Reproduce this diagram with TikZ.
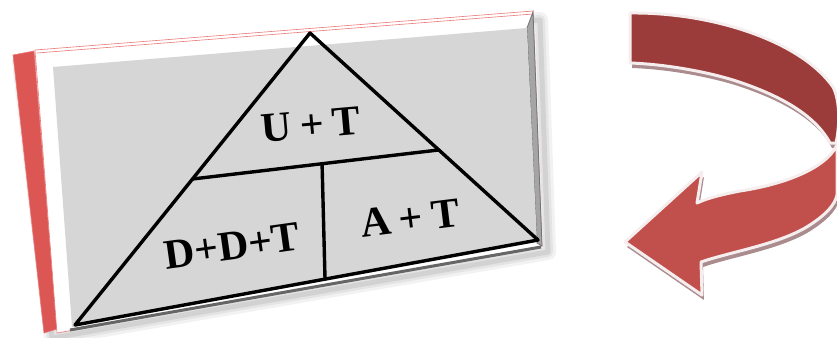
\documentclass[tikz,border=0pt]{standalone}
\usepackage{fontspec}
\setmainfont{Liberation Serif}
\usetikzlibrary{calc}
\definecolor{facegray}{RGB}{214,214,214}
\definecolor{bevelgray}{RGB}{165,165,165}
\definecolor{sidered}{RGB}{220,86,84}
\definecolor{thinred}{RGB}{232,120,118}
\definecolor{darkband}{RGB}{156,60,58}
\definecolor{lightband}{RGB}{193,80,77}
\definecolor{ribbonedge}{RGB}{246,238,238}
\definecolor{ribbonshadow}{RGB}{170,140,142}
\tikzset{
  tri/.style={line width=3.4pt, line cap=round, line join=round, draw=black},
  lab/.style={font=\bfseries\fontsize{42}{42}\selectfont, inner sep=0pt},
  band/.style={draw=ribbonedge, line width=3pt, line join=round},
  bandshadow/.style={fill=ribbonshadow, draw=none}
}
\begin{document}
\begin{tikzpicture}[x=1pt,y=-1pt]
\useasboundingbox (0,0) rectangle (837,337);
% soft shadow of the board
\foreach \w/\o in {16/0.05,10/0.06,5/0.08}{
  \draw[black, line width=\w pt, opacity=\o, line join=round]
    (20,62) -- (540,20) -- (548,252) -- (52,338) -- cycle;
}
% red side strip
\fill[sidered, draw=thinred, line width=0.6pt] (13,55) -- (34,51) -- (57,329) -- (44,333) -- cycle;
% white bevel frame
\fill[white, draw=thinred, line width=0.6pt] (35,50) -- (533,11) -- (542,246) -- (57,333) -- cycle;
\draw[thinred, line width=0.6pt] (37,53) -- (533,14);
% right bevel
\fill[bevelgray, draw=black!55, line width=0.8pt] (527,28) -- (533,12) -- (542,246) -- (537,243) -- cycle;
% gray face
\fill[facegray] (53,67) -- (527,28) -- (537,242) -- (72,327) -- cycle;
% bottom shadow edge
\draw[black!60, line width=3pt] (70,330) -- (541,247);

% triangle
\coordinate (A) at (310,33);
\coordinate (L) at (75,325);
\coordinate (R) at (538,240);
\coordinate (M1) at ($(L)!0.5!(A)$);
\coordinate (M2) at ($(R)!0.435!(A)$);
\coordinate (V1) at ($(M1)!0.526!(M2)$);
\coordinate (V2) at ($(L)!0.54!(R)$);
\draw[tri] (A) -- (L) -- (R) -- cycle;
\draw[tri] (M1) -- (M2);
\draw[tri] (V1) -- (V2);

\node[lab, rotate=5] (ut) at (311,125) {U\hspace{0.2em}+\hspace{0.2em}T};
\node[lab, rotate=8] (ddt) at (232,246) {D+D+T};
\node[lab, rotate=7] (at) at (410,218) {A\hspace{0.2em}+\hspace{0.2em}T};

% curved arrow: shadows
\begin{scope}[shift={(2,5)}]
  \fill[bandshadow] (630,13) .. controls (710,12) and (800,40) .. (833,87)
    .. controls (840,100) and (840,125) .. (836,143) -- (830,143)
    .. controls (815,115) and (780,95) .. (733,80)
    .. controls (700,70) and (660,64) .. (630,63) -- cycle;
  \fill[bandshadow] (837,145) .. controls (825,170) and (780,185) .. (740,191)
    .. controls (725,194) and (710,197) .. (697,203) -- (702,172) -- (625,242)
    -- (702,295) -- (701,262) .. controls (730,252) and (775,245) .. (805,228)
    .. controls (825,216) and (835,205) .. (837,195) -- cycle;
\end{scope}
% upper (dark) band
\filldraw[band, fill=darkband] (630,13) .. controls (710,12) and (800,40) .. (833,87)
    .. controls (840,100) and (840,125) .. (836,143) -- (830,143)
    .. controls (815,115) and (780,95) .. (733,80)
    .. controls (700,70) and (660,64) .. (630,63) -- cycle;
% lower band with arrow head
\filldraw[band, fill=lightband] (837,145) .. controls (825,170) and (780,185) .. (740,191)
    .. controls (725,194) and (710,197) .. (697,203) -- (702,172) -- (625,242)
    -- (702,295) -- (701,262) .. controls (730,252) and (775,245) .. (805,228)
    .. controls (825,216) and (835,205) .. (837,195) -- cycle;
\end{tikzpicture}
\end{document}
